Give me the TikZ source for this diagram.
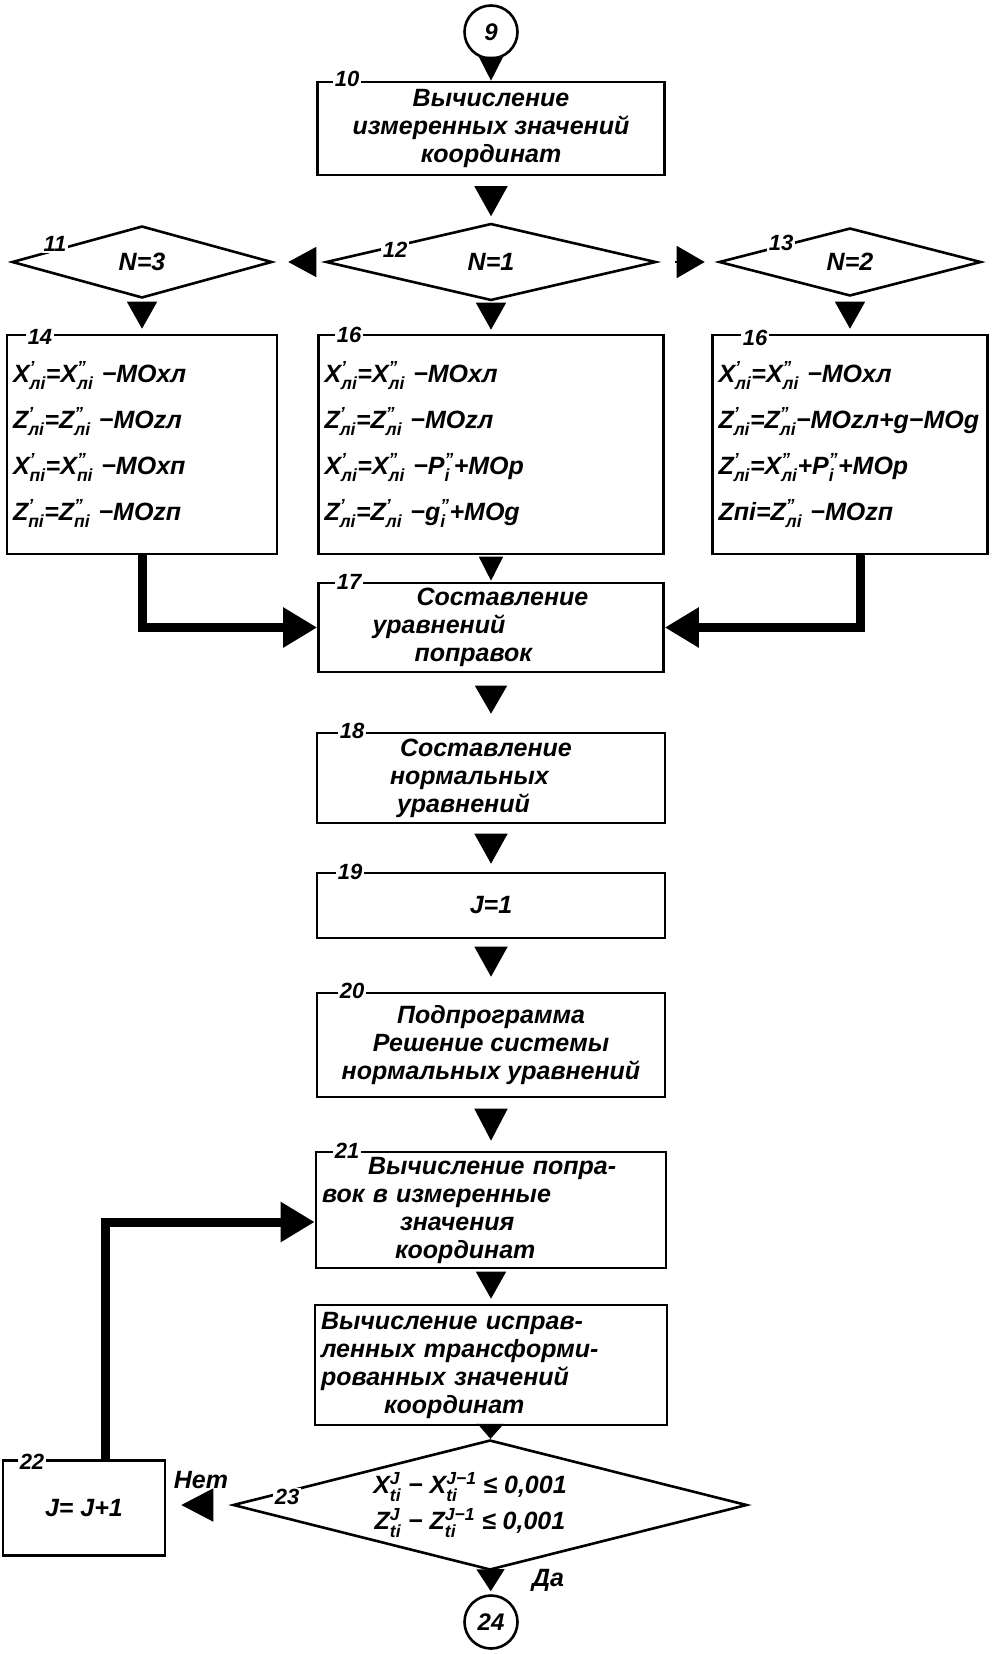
\documentclass[tikz,border=0pt]{standalone}
\usepackage{amsmath}
\usepackage{fontspec}
\setmainfont{Liberation Sans}
\usetikzlibrary{positioning,arrows.meta,shapes.geometric}
\newcommand\co[3]{#1$^{\text{#2}}_{\text{#3}}$}
\tikzset{
    every node/.style={font=\fontsize{25}{28}\selectfont\bfseries\itshape},
    box/.style={draw,line width=2.6pt,inner xsep=6pt,inner ysep=0pt,align=center},
    tbox/.style={box,align=left},
    fbox/.style={box,align=left,font=\fontsize{25}{46}\selectfont\bfseries\itshape},
    cond/.style={diamond,draw,line width=2.6pt,inner sep=0pt,align=center},
    conn/.style={circle,draw,line width=2.6pt,inner sep=0pt,minimum size=53pt,font=\fontsize{24}{24}\selectfont\bfseries\itshape},
    num/.style={fill=white,inner sep=1.5pt,font=\fontsize{22}{22}\selectfont\bfseries\itshape},
    lbl/.style={inner sep=1pt},
    flow/.style 2 args={line width=1.5pt,-{Triangle[length=#1,width=#2]}},
    gap/.style 2 args={shorten <=#1,shorten >=#2},
    bold/.style={line width=9pt,-{Triangle[length=34pt,width=38pt]}}
}
\begin{document}
\begin{tikzpicture}[x=1pt,y=-1pt]
\useasboundingbox (0,0) rectangle (993,1654);
\node[conn] (c9) at (491,32) {9};
\node[box,minimum width=347pt,minimum height=93pt] (b10) at (491,128.5) {Вычисление\\измеренных значений\\координат};
\node[cond,minimum width=330pt,minimum height=77pt] (d12) at (491,262) {N=1};
\node[cond,minimum width=260pt,minimum height=72pt] (d11) at (142,262) {N=3};
\node[cond,minimum width=262pt,minimum height=68pt] (d13) at (850,262) {N=2};
\node[fbox,text width=258pt,minimum height=219pt] (b14) at (142,444.5) {\co{X}{'}{лi}=\co{X}{''}{лi} −MOxл\\\co{Z}{'}{лi}=\co{Z}{''}{лi} −MOzл\\\co{X}{'}{пi}=\co{X}{''}{пi} −MOxп\\\co{Z}{'}{пi}=\co{Z}{''}{пi} −MOzп};
\node[fbox,text width=333pt,minimum height=219pt] (b15) at (491,444.5) {\co{X}{'}{лi}=\co{X}{''}{лi} −MOxл\\\co{Z}{'}{лi}=\co{Z}{''}{лi} −MOzл\\\co{X}{'}{лi}=\co{X}{''}{лi} −\co{P}{''}{i}+MOp\\\co{Z}{'}{лi}=\co{Z}{'}{лi} −\co{g}{''}{i}+MOg};
\node[fbox,text width=263pt,minimum height=219pt] (b16) at (850,444.5) {\co{X}{'}{лi}=\co{X}{''}{лi} −MOxл\\\co{Z}{'}{лi}=\co{Z}{''}{лi}−MOzл+g−MOg\\\co{Z}{'}{лi}=\co{X}{''}{лi}+\co{P}{''}{i}+MOp\\Zпi=\co{Z}{''}{лi} −MOzп};
\node[tbox,text width=333pt,minimum height=89pt] (b17) at (491,627.5) {\hspace*{92pt}Составление\\\hspace*{48pt}уравнений\\\hspace*{90pt}поправок};
\node[tbox,text width=336pt,minimum height=90pt] (b18) at (491,778) {\hspace*{77pt}Составление\\\hspace*{67pt}нормальных\\\hspace*{74pt}уравнений};
\node[box,minimum width=348pt,minimum height=65pt] (b19) at (491,905.5) {J=1};
\node[box,minimum width=348pt,minimum height=104pt] (b20) at (491,1045) {Подпрограмма\\Решение системы\\нормальных уравнений};
\node[tbox,text width=338pt,minimum height=116pt] (b21) at (491,1210) {\hspace*{46pt}Вычисление попра-\\вок в измеренные\\\hspace*{78pt}значения\\\hspace*{73pt}координат};
\node[tbox,text width=340pt,minimum height=120pt] (b21a) at (491,1365) {Вычисление исправ-\\ленных трансформи-\\рованных значений\\\hspace*{63pt}координат};
\node[cond,aspect=4,minimum width=514pt,minimum height=130pt,font=\fontsize{25}{36}\selectfont\bfseries\itshape] (d23) at (490,1505) {\co{X}{J}{ti} − \co{X}{J−1}{ti} ≤ 0,001\hspace*{40pt}\\\co{Z}{J}{ti} − \co{Z}{J−1}{ti} ≤ 0,001\hspace*{40pt}};
\node[box,minimum width=162pt,minimum height=95pt] (b22) at (84,1508) {J= J+1};
\node[conn] (c24) at (491,1622) {24};
\node[num] (n10) at (347,79) {10};
\node[num] (n11) at (55,244) {11};
\node[num] (n12) at (395,250) {12};
\node[num] (n13) at (781,243) {13};
\node[num] (n14) at (40,337) {14};
\node[num] (n15) at (349,335) {16};
\node[num] (n16) at (755,338) {16};
\node[num] (n17) at (349,582) {17};
\node[num] (n18) at (352,731) {18};
\node[num] (n19) at (350,872) {19};
\node[num] (n20) at (352,991) {20};
\node[num] (n21) at (347,1151) {21};
\node[num] (n22) at (32,1462) {22};
\node[num] (n23) at (287,1497) {23};
\node[lbl] (no) at (201,1480) {Нет};
\node[lbl] (yes) at (548,1580) {Да};
\draw[flow={24pt}{24pt}] (c9) -- (b10);
\draw[flow={30pt}{33pt},gap={12pt}{6pt}] (b10) -- (d12);
\draw[flow={28pt}{30pt},gap={15pt}{15pt}] (d12) -- (d11);
\draw[flow={28pt}{32pt},gap={18pt}{13pt}] (d12) -- (d13);
\draw[flow={27pt}{30pt},gap={5pt}{5pt}] (d11) -- (b14);
\draw[flow={27pt}{30pt},gap={3pt}{4pt}] (d12) -- (b15);
\draw[flow={27pt}{30pt},gap={5pt}{5pt}] (d13) -- (b16);
\draw[flow={24pt}{24pt},gap={4pt}{1pt}] (b15) -- (b17);
\draw[bold] (b14.south) |- (b17.west);
\draw[bold] ([xshift=10pt]b16.south) |- (b17.east);
\draw[flow={28pt}{32pt},gap={15pt}{18pt}] (b17) -- (b18);
\draw[flow={30pt}{33pt},gap={12pt}{8pt}] (b18) -- (b19);
\draw[flow={30pt}{33pt},gap={10pt}{15pt}] (b19) -- (b20);
\draw[flow={32pt}{33pt},gap={13pt}{10pt}] (b20) -- (b21);
\draw[flow={27pt}{30pt},gap={5pt}{5pt}] (b21) -- (b21a);
\draw[flow={15pt}{26pt}] (b21a) -- (d23);
\draw[flow={22pt}{28pt},gap={0pt}{3pt}] (d23) -- (c24);
\draw[flow={32pt}{33pt},gap={21pt}{15pt}] (d23.west) -- (d23.west -| b22.east);
\draw[bold] ([xshift=21pt]b22.north) |- ([yshift=-12pt]b21.west);
\end{tikzpicture}
\end{document}
